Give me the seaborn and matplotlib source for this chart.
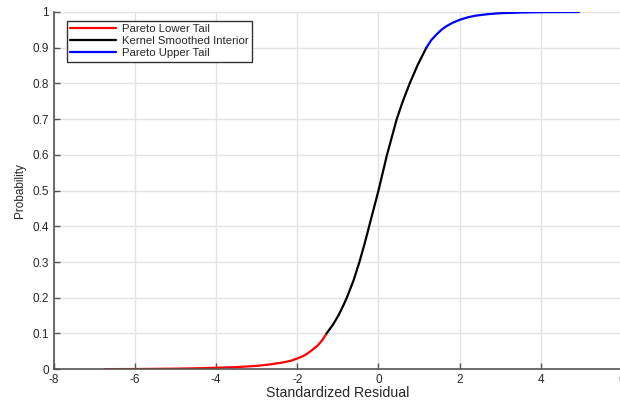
import numpy as np
import pandas as pd
import matplotlib
matplotlib.use("Agg")
import matplotlib.pyplot as plt
import seaborn as sns

# values
lower_x = [-6.74, -6.0, -5.0, -4.5, -4.0, -3.5, -3.0, -2.7, -2.35, -2.15, -2.0,
           -1.85, -1.75, -1.62, -1.5, -1.38, -1.28]
lower_p = [0.0002, 0.0005, 0.0015, 0.0025, 0.004, 0.0058, 0.0093, 0.013, 0.019, 0.024, 0.030,
           0.037, 0.044, 0.055, 0.066, 0.082, 0.10]

inner_x = [-1.28, -1.12, -0.99, -0.88, -0.78, -0.61, -0.47, -0.345, -0.23, -0.115, 0.0,
           0.105, 0.21, 0.33, 0.45, 0.60, 0.77, 0.96, 1.07, 1.18]
inner_p = [0.10, 0.125, 0.15, 0.175, 0.20, 0.25, 0.30, 0.35, 0.40, 0.45, 0.50,
           0.55, 0.60, 0.65, 0.70, 0.75, 0.80, 0.85, 0.875, 0.90]

upper_x = [1.18, 1.3, 1.43, 1.55, 1.67, 1.83, 2.0, 2.2, 2.41, 2.7, 2.98, 3.5, 4.0, 4.94]
upper_p = [0.90, 0.921, 0.937, 0.950, 0.960, 0.970, 0.978, 0.985, 0.990, 0.994, 0.9965, 0.9985, 0.9995, 1.0]

df = pd.concat([
    pd.DataFrame({"x": lower_x, "p": lower_p, "part": "Pareto Lower Tail"}),
    pd.DataFrame({"x": inner_x, "p": inner_p, "part": "Kernel Smoothed Interior"}),
    pd.DataFrame({"x": upper_x, "p": upper_p, "part": "Pareto Upper Tail"}),
])
colors = {"Pareto Lower Tail": "#ff0000",
          "Kernel Smoothed Interior": "#000000",
          "Pareto Upper Tail": "#0000ff"}

sns.set_style("whitegrid")
plt.rcParams["font.family"] = ["Liberation Sans", "DejaVu Sans"]
plt.rcParams["axes.unicode_minus"] = False

fig = plt.figure(figsize=(6.2, 4.0), dpi=100)
ax = fig.add_axes([0.087, 0.077, 0.916, 0.893])

sns.lineplot(data=df, x="x", y="p", hue="part", palette=colors, sort=False,
             estimator=None, linewidth=1.6, ax=ax)

ax.set_xlim(-8, 6)
ax.set_ylim(0, 1)
ax.set_xticks(np.arange(-8, 7, 2))
ax.set_yticks(np.arange(0, 1.01, 0.1))
ax.set_yticklabels(["0", "0.1", "0.2", "0.3", "0.4", "0.5", "0.6", "0.7", "0.8", "0.9", "1"])
ax.set_xlabel("Standardized Residual", fontsize=10.2, labelpad=0, color="#262626")
ax.set_ylabel("Probability", fontsize=8.5, labelpad=5, color="#262626")

ax.grid(True, color="#e3e3e3", linewidth=1)
for s in ["top", "right"]:
    ax.spines[s].set_visible(False)
for s in ["left", "bottom"]:
    ax.spines[s].set_color("#555555")
    ax.spines[s].set_linewidth(1.2)
ax.tick_params(direction="in", length=4, width=1, colors="#555555",
               labelcolor="#262626", labelsize=8.5, left=True, bottom=True, pad=3.5)

leg = ax.legend(loc="upper left", bbox_to_anchor=(0.023, 0.975), fontsize=8.2,
                frameon=True, fancybox=False, handlelength=4.0, borderpad=0.3,
                labelspacing=0.18, handletextpad=0.5, borderaxespad=0)
leg.get_frame().set_edgecolor("#333333")
leg.get_frame().set_linewidth(1)
leg.get_frame().set_alpha(1)

fig.savefig("out.png", dpi=100)
